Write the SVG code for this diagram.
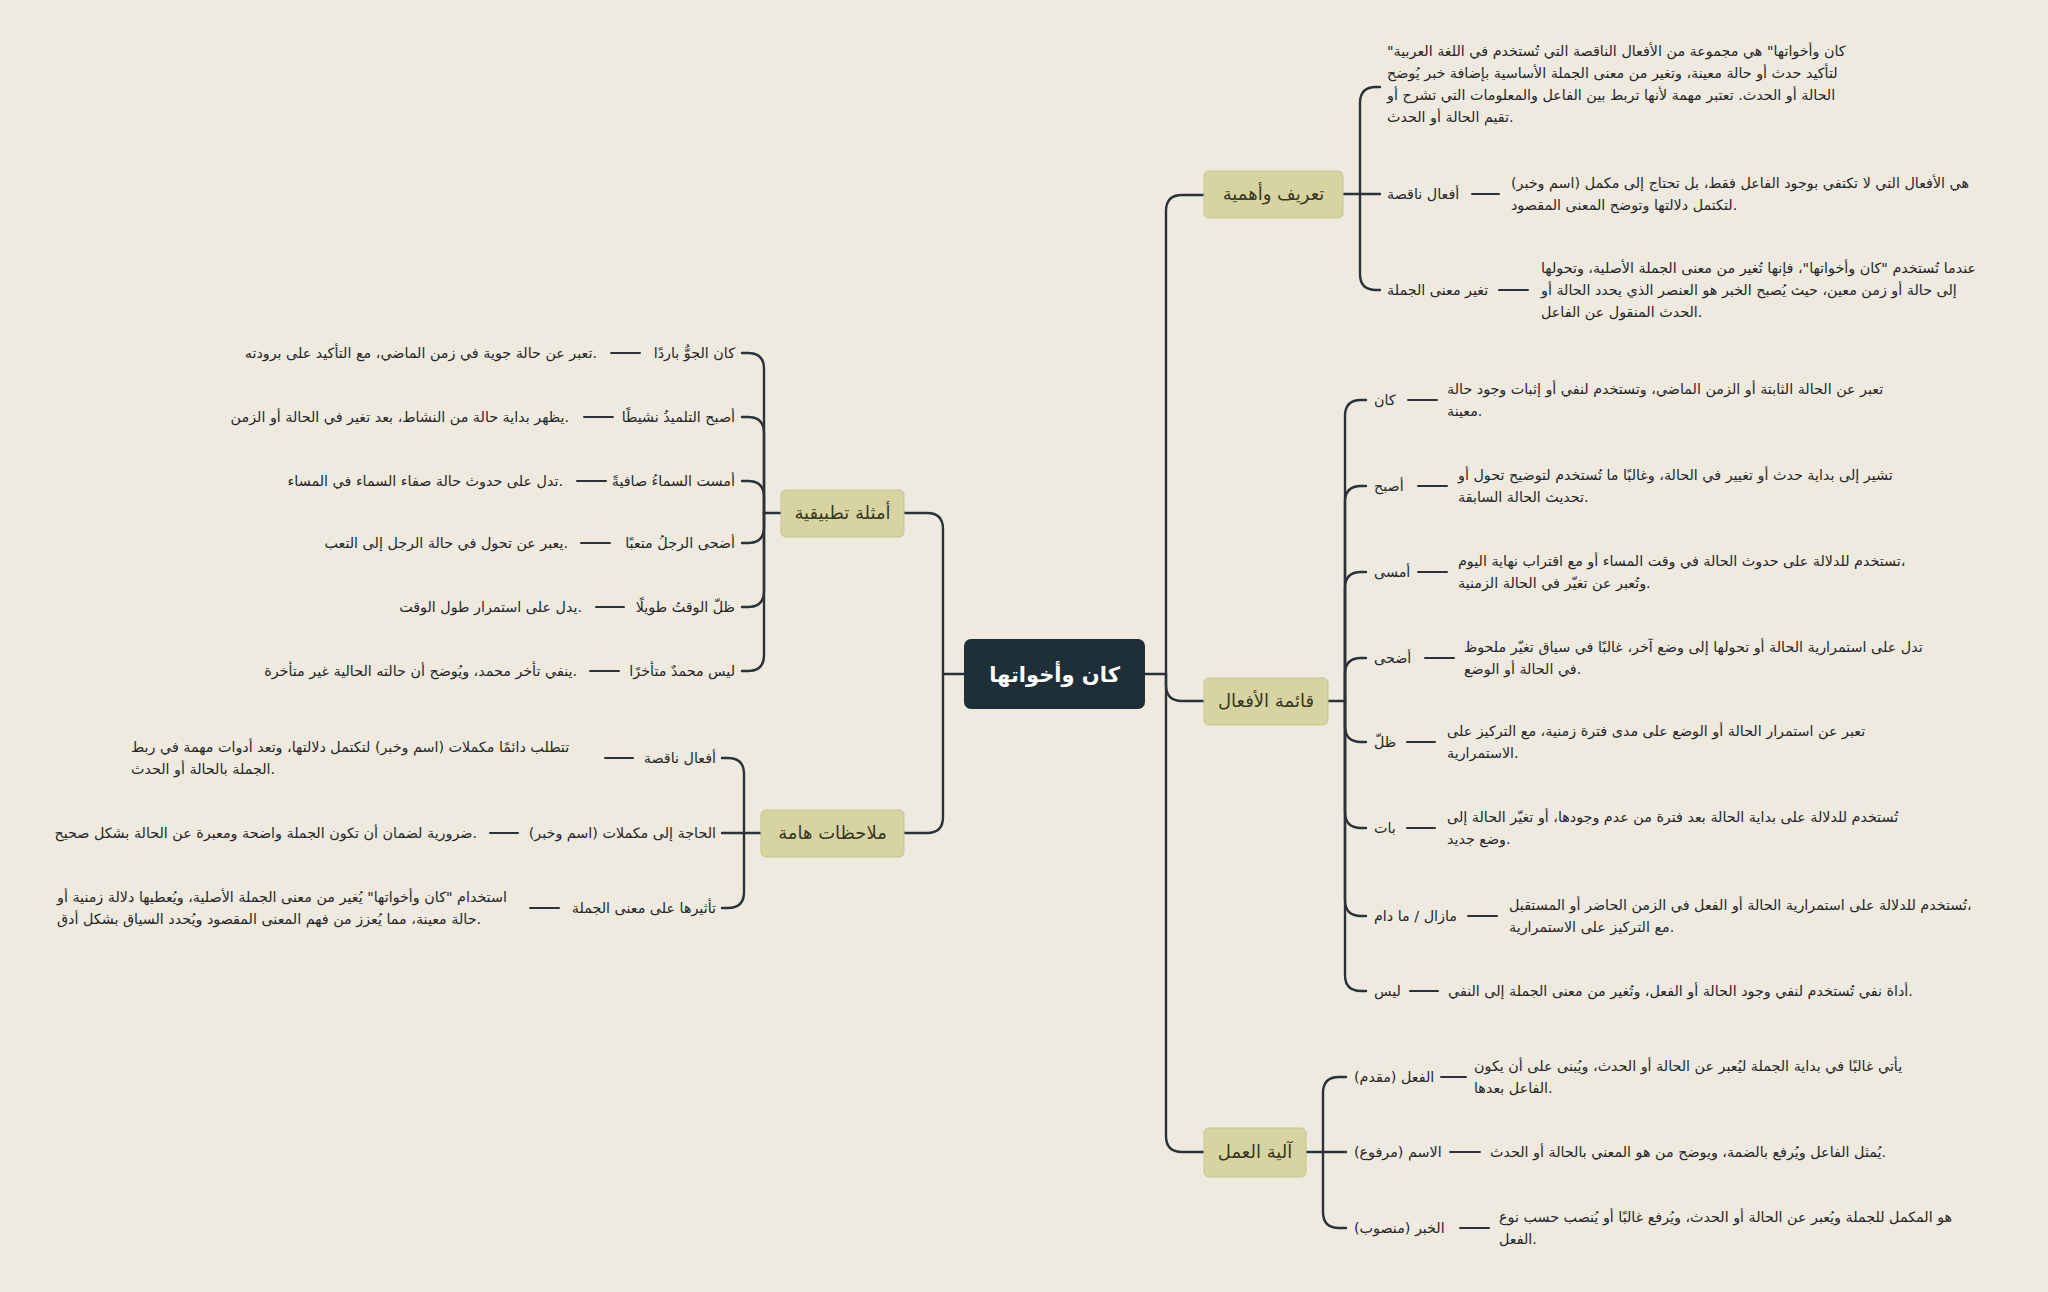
<svg xmlns="http://www.w3.org/2000/svg" width="2048" height="1292" viewBox="0 0 2048 1292">
<defs>
<style>
.bg{fill:#eeeae0}
.conn path{fill:none;stroke:#2c3338;stroke-width:2.4;stroke-linecap:round}
.conn .d{stroke-width:2}
.t{font-family:"DejaVu Sans",sans-serif;font-size:14.3px;fill:#262626}
.nt{font-family:"DejaVu Sans",sans-serif;font-size:18px;fill:#38381f}
.ct{font-family:"DejaVu Sans",sans-serif;font-size:21px;font-weight:bold;fill:#ffffff}
.nb{fill:#d7d4a2;stroke:#c8c590;stroke-width:1}
.cb{fill:#1f2f38}
</style>
</defs>
<rect class="bg" x="0" y="0" width="2048" height="1292"/>
<g class="conn">
<path d="M1145,674 H1166"/>
<path d="M1166,674 V211 Q1166,195 1182,195 H1204"/>
<path d="M1166,674 V685 Q1166,701 1182,701 H1204"/>
<path d="M1166,674 V1136 Q1166,1152 1182,1152 H1204"/>
<path d="M964,674 H943"/>
<path d="M943,674 V529 Q943,513 927,513 H904"/>
<path d="M943,674 V817 Q943,833 927,833 H904"/>
<path d="M1343,194 H1380"/>
<path d="M1360,194 V103 Q1360,87 1376,87 H1380"/>
<path d="M1360,194 V274 Q1360,290 1376,290 H1380"/>
<path d="M1328,701 H1345"/>
<path d="M1345,701 V416 Q1345,400 1361,400 H1366"/>
<path d="M1345,701 V502 Q1345,486 1361,486 H1366"/>
<path d="M1345,701 V588 Q1345,572 1361,572 H1366"/>
<path d="M1345,701 V674 Q1345,658 1361,658 H1366"/>
<path d="M1345,701 V726 Q1345,742 1361,742 H1366"/>
<path d="M1345,701 V812 Q1345,828 1361,828 H1366"/>
<path d="M1345,701 V900 Q1345,916 1361,916 H1366"/>
<path d="M1345,701 V975 Q1345,991 1361,991 H1366"/>
<path d="M1306,1152 H1346"/>
<path d="M1323,1152 V1093 Q1323,1077 1339,1077 H1346"/>
<path d="M1323,1152 V1212 Q1323,1228 1339,1228 H1346"/>
<path d="M781,513 H764"/>
<path d="M764,513 V369 Q764,353 748,353 H742"/>
<path d="M764,513 V433 Q764,417 748,417 H742"/>
<path d="M764,513 V497 Q764,481 748,481 H742"/>
<path d="M764,513 V527 Q764,543 748,543 H742"/>
<path d="M764,513 V591 Q764,607 748,607 H742"/>
<path d="M764,513 V655 Q764,671 748,671 H742"/>
<path d="M761,833 H722"/>
<path d="M744,833 V774 Q744,758 728,758 H722"/>
<path d="M744,833 V892 Q744,908 728,908 H722"/>
<path class="d" d="M1472,194 H1499"/>
<path class="d" d="M1499,290 H1528"/>
<path class="d" d="M1408,400 H1437"/>
<path class="d" d="M1418,486 H1447"/>
<path class="d" d="M1418,572 H1447"/>
<path class="d" d="M1425,658 H1454"/>
<path class="d" d="M1407,742 H1435"/>
<path class="d" d="M1407,828 H1435"/>
<path class="d" d="M1468,916 H1497"/>
<path class="d" d="M1410,991 H1438"/>
<path class="d" d="M1441,1077 H1466"/>
<path class="d" d="M1450,1152 H1480"/>
<path class="d" d="M1460,1228 H1489"/>
<path class="d" d="M611,353 H640"/>
<path class="d" d="M584,417 H613"/>
<path class="d" d="M577,481 H606"/>
<path class="d" d="M581,543 H610"/>
<path class="d" d="M596,607 H624"/>
<path class="d" d="M590,671 H619"/>
<path class="d" d="M605,758 H633"/>
<path class="d" d="M490,833 H518"/>
<path class="d" d="M530,908 H559"/>
</g>
<g id="center">
<rect class="cb" x="964" y="639" width="181" height="70" rx="7"/>
<text class="ct" x="1054.5" y="682" text-anchor="middle">كان وأخواتها</text>
</g>
<g id="n-tarif">
<rect class="nb" x="1204" y="171" width="139" height="47" rx="5"/>
<text class="nt" x="1273.5" y="200" text-anchor="middle">تعريف وأهمية</text>
</g>
<g id="n-qaima">
<rect class="nb" x="1204" y="678" width="124" height="47" rx="5"/>
<text class="nt" x="1266" y="707" text-anchor="middle">قائمة الأفعال</text>
</g>
<g id="n-alia">
<rect class="nb" x="1204" y="1128" width="102" height="49" rx="5"/>
<text class="nt" x="1255" y="1158" text-anchor="middle">آلية العمل</text>
</g>
<g id="n-amthila">
<rect class="nb" x="781" y="490" width="123" height="47" rx="5"/>
<text class="nt" x="842.5" y="519" text-anchor="middle">أمثلة تطبيقية</text>
</g>
<g id="n-mulahazat">
<rect class="nb" x="761" y="810" width="143" height="47" rx="5"/>
<text class="nt" x="832.5" y="839" text-anchor="middle">ملاحظات هامة</text>
</g>
<g id="t-def">
<text class="t" x="1387" y="56">"كان وأخواتها" هي مجموعة من الأفعال الناقصة التي تُستخدم في اللغة العربية</text>
<text class="t" x="1387" y="78">لتأكيد حدث أو حالة معينة، وتغير من معنى الجملة الأساسية بإضافة خبر يُوضح</text>
<text class="t" x="1387" y="100">الحالة أو الحدث. تعتبر مهمة لأنها تربط بين الفاعل والمعلومات التي تشرح أو</text>
<text class="t" x="1387" y="122">تقيم الحالة أو الحدث.</text>
</g>
<g id="t-afal">
<text class="t" x="1387" y="199">أفعال ناقصة</text>
<text class="t" x="1511" y="188">هي الأفعال التي لا تكتفي بوجود الفاعل فقط، بل تحتاج إلى مكمل (اسم وخبر)</text>
<text class="t" x="1511" y="210">لتكتمل دلالتها وتوضح المعنى المقصود.</text>
</g>
<g id="t-taghyir">
<text class="t" x="1387" y="295">تغير معنى الجملة</text>
<text class="t" x="1541" y="273">عندما تُستخدم "كان وأخواتها"، فإنها تُغير من معنى الجملة الأصلية، وتحولها</text>
<text class="t" x="1541" y="295">إلى حالة أو زمن معين، حيث يُصبح الخبر هو العنصر الذي يحدد الحالة أو</text>
<text class="t" x="1541" y="317">الحدث المنقول عن الفاعل.</text>
</g>
<g id="t-kana">
<text class="t" x="1374" y="405">كان</text>
<text class="t" x="1447" y="394">تعبر عن الحالة الثابتة أو الزمن الماضي، وتستخدم لنفي أو إثبات وجود حالة</text>
<text class="t" x="1447" y="416">معينة.</text>
</g>
<g id="t-asbaha">
<text class="t" x="1374" y="491">أصبح</text>
<text class="t" x="1458" y="480">تشير إلى بداية حدث أو تغيير في الحالة، وغالبًا ما تُستخدم لتوضيح تحول أو</text>
<text class="t" x="1458" y="502">تحديث الحالة السابقة.</text>
</g>
<g id="t-amsa">
<text class="t" x="1374" y="577">أمسى</text>
<text class="t" x="1458" y="566">تستخدم للدلالة على حدوث الحالة في وقت المساء أو مع اقتراب نهاية اليوم،</text>
<text class="t" x="1458" y="588">وتُعبر عن تغيّر في الحالة الزمنية.</text>
</g>
<g id="t-adha">
<text class="t" x="1374" y="663">أضحى</text>
<text class="t" x="1464" y="652">تدل على استمرارية الحالة أو تحولها إلى وضع آخر، غالبًا في سياق تغيّر ملحوظ</text>
<text class="t" x="1464" y="674">في الحالة أو الوضع.</text>
</g>
<g id="t-zalla">
<text class="t" x="1374" y="747">ظلّ</text>
<text class="t" x="1447" y="736">تعبر عن استمرار الحالة أو الوضع على مدى فترة زمنية، مع التركيز على</text>
<text class="t" x="1447" y="758">الاستمرارية.</text>
</g>
<g id="t-bata">
<text class="t" x="1374" y="833">بات</text>
<text class="t" x="1447" y="822">تُستخدم للدلالة على بداية الحالة بعد فترة من عدم وجودها، أو تغيّر الحالة إلى</text>
<text class="t" x="1447" y="844">وضع جديد.</text>
</g>
<g id="t-mazal">
<text class="t" x="1374" y="921">مازال / ما دام</text>
<text class="t" x="1509" y="910">تُستخدم للدلالة على استمرارية الحالة أو الفعل في الزمن الحاضر أو المستقبل،</text>
<text class="t" x="1509" y="932">مع التركيز على الاستمرارية.</text>
</g>
<g id="t-laysa">
<text class="t" x="1374" y="996">ليس</text>
<text class="t" x="1448" y="996">أداة نفي تُستخدم لنفي وجود الحالة أو الفعل، وتُغير من معنى الجملة إلى النفي.</text>
</g>
<g id="t-fiil">
<text class="t" x="1354" y="1082">الفعل (مقدم)</text>
<text class="t" x="1474" y="1071">يأتي غالبًا في بداية الجملة ليُعبر عن الحالة أو الحدث، ويُبنى على أن يكون</text>
<text class="t" x="1474" y="1093">الفاعل بعدها.</text>
</g>
<g id="t-ism">
<text class="t" x="1354" y="1157">الاسم (مرفوع)</text>
<text class="t" x="1490" y="1157">يُمثل الفاعل ويُرفع بالضمة، ويوضح من هو المعني بالحالة أو الحدث.</text>
</g>
<g id="t-khabar">
<text class="t" x="1354" y="1233">الخبر (منصوب)</text>
<text class="t" x="1499" y="1222">هو المكمل للجملة ويُعبر عن الحالة أو الحدث، ويُرفع غالبًا أو يُنصب حسب نوع</text>
<text class="t" x="1499" y="1244">الفعل.</text>
</g>
<g id="t-ex1">
<text class="t" x="735" y="358" text-anchor="end">كان الجوُّ باردًا</text>
<text class="t" x="597" y="358" text-anchor="end">تعبر عن حالة جوية في زمن الماضي، مع التأكيد على برودته.</text>
</g>
<g id="t-ex2">
<text class="t" x="735" y="422" text-anchor="end">أصبح التلميذُ نشيطًا</text>
<text class="t" x="569" y="422" text-anchor="end">يظهر بداية حالة من النشاط، بعد تغير في الحالة أو الزمن.</text>
</g>
<g id="t-ex3">
<text class="t" x="735" y="486" text-anchor="end">أمست السماءُ صافيةً</text>
<text class="t" x="563" y="486" text-anchor="end">تدل على حدوث حالة صفاء السماء في المساء.</text>
</g>
<g id="t-ex4">
<text class="t" x="735" y="548" text-anchor="end">أضحى الرجلُ متعبًا</text>
<text class="t" x="568" y="548" text-anchor="end">يعبر عن تحول في حالة الرجل إلى التعب.</text>
</g>
<g id="t-ex5">
<text class="t" x="735" y="612" text-anchor="end">ظلّ الوقتُ طويلًا</text>
<text class="t" x="582" y="612" text-anchor="end">يدل على استمرار طول الوقت.</text>
</g>
<g id="t-ex6">
<text class="t" x="735" y="676" text-anchor="end">ليس محمدٌ متأخرًا</text>
<text class="t" x="577" y="676" text-anchor="end">ينفي تأخر محمد، ويُوضح أن حالته الحالية غير متأخرة.</text>
</g>
<g id="t-note1">
<text class="t" x="716" y="763" text-anchor="end">أفعال ناقصة</text>
<text class="t" x="131" y="752">تتطلب دائمًا مكملات (اسم وخبر) لتكتمل دلالتها، وتعد أدوات مهمة في ربط</text>
<text class="t" x="131" y="774">الجملة بالحالة أو الحدث.</text>
</g>
<g id="t-note2">
<text class="t" x="716" y="838" text-anchor="end">الحاجة إلى مكملات (اسم وخبر)</text>
<text class="t" x="477" y="838" text-anchor="end">ضرورية لضمان أن تكون الجملة واضحة ومعبرة عن الحالة بشكل صحيح.</text>
</g>
<g id="t-note3">
<text class="t" x="716" y="913" text-anchor="end">تأثيرها على معنى الجملة</text>
<text class="t" x="57" y="902">استخدام "كان وأخواتها" يُغير من معنى الجملة الأصلية، ويُعطيها دلالة زمنية أو</text>
<text class="t" x="57" y="924">حالة معينة، مما يُعزز من فهم المعنى المقصود ويُحدد السياق بشكل أدق.</text>
</g>
</svg>
